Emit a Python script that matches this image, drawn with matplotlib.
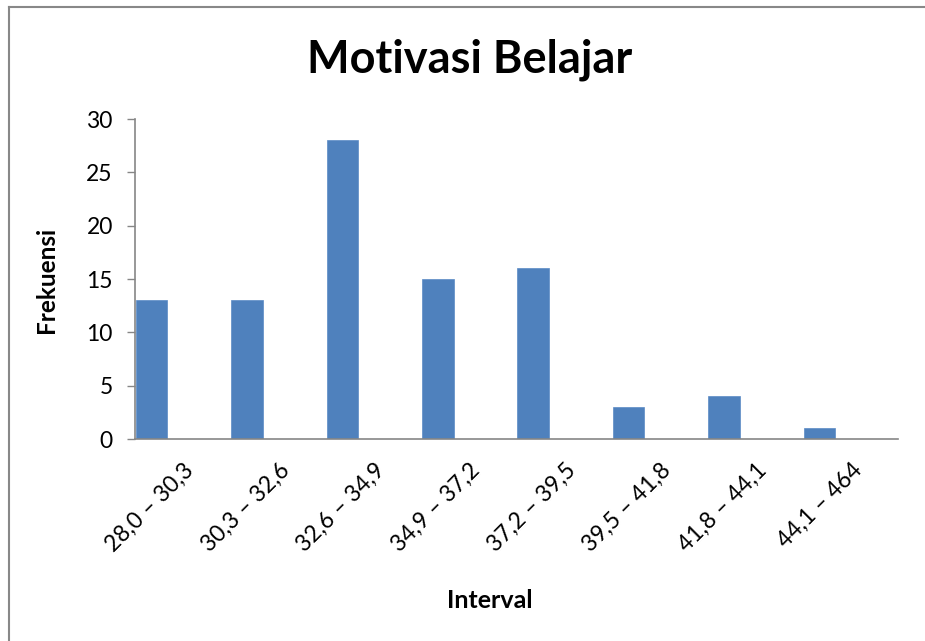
import numpy as np
import matplotlib.pyplot as plt
import matplotlib.transforms as mtransforms
from matplotlib.lines import Line2D

# data
intervals = ["28,0 – 30,3", "30,3 – 32,6", "32,6 – 34,9", "34,9 – 37,2",
             "37,2 – 39,5", "39,5 – 41,8", "41,8 – 44,1", "44,1 – 464"]
frekuensi = [13, 13, 28, 15, 16, 3, 4, 1]

plt.rcParams["font.family"] = ["Lato", "DejaVu Sans"]

fig = plt.figure(figsize=(9.25, 6.41), dpi=100)
ax = fig.add_axes([135 / 925, 1 - 439 / 641, (898 - 135) / 925, (439 - 119) / 641])

x = np.arange(len(intervals))
# bars sit in the left part of each category slot
ax.bar(x - 0.49, frekuensi, width=0.33, align="edge", color="#4F81BD",
       edgecolor="#5B8BC6", linewidth=0.5)

ax.set_xlim(-0.5, len(intervals) - 0.5)
ax.set_ylim(0, 30)
ax.set_yticks([0, 5, 10, 15, 20, 25, 30])
ax.set_xticks(x)
ax.set_xticklabels(intervals, rotation=45, ha="right", va="center",
                   rotation_mode="anchor", fontsize=16.5)
ax.tick_params(axis="x", length=0, pad=20)
ax.tick_params(axis="y", direction="out", length=6, color="#868686",
               width=1, labelsize=16.5, pad=10)

# nudge the rotated labels so their ends meet the category centres
shift = mtransforms.ScaledTranslation(8 / 100, 0, fig.dpi_scale_trans)
for lbl in ax.get_xticklabels():
    lbl.set_transform(lbl.get_transform() + shift)

for s in ["top", "right"]:
    ax.spines[s].set_visible(False)
for s in ["left", "bottom"]:
    ax.spines[s].set_color("#868686")
    ax.spines[s].set_linewidth(1.2)

fig.text(47 / 925, 1 - 280 / 641, "Frekuensi", fontsize=17.5, fontweight="bold",
         rotation=90, ha="center", va="center")
fig.text(490 / 925, 1 - 600 / 641, "Interval", fontsize=18, fontweight="bold",
         ha="center", va="center")
fig.text(470 / 925, 1 - 60 / 641, "Motivasi Belajar", fontsize=32.5,
         fontweight="bold", ha="center", va="center")

# chart border (cropped: only left and top visible)
fig.add_artist(Line2D([9 / 925, 9 / 925], [0, 1 - 7 / 641], transform=fig.transFigure,
                      color="#888888", linewidth=1.5))
fig.add_artist(Line2D([9 / 925, 1], [1 - 7 / 641, 1 - 7 / 641], transform=fig.transFigure,
                      color="#888888", linewidth=1.5))

fig.savefig("out.png", dpi=100, facecolor="white")
